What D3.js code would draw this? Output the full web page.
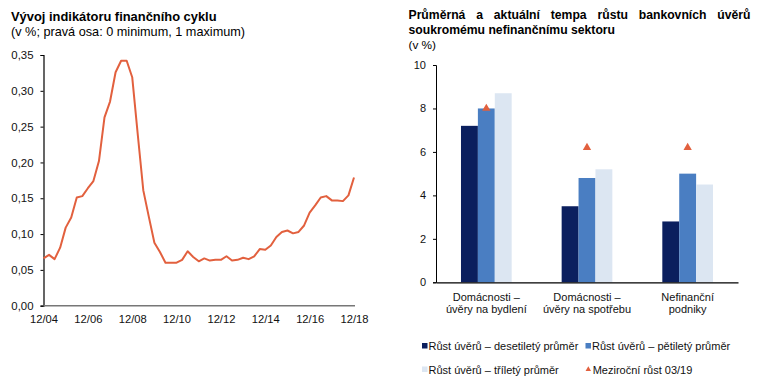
<!DOCTYPE html>
<html><head><meta charset="utf-8">
<script src="https://cdn.jsdelivr.net/npm/d3@7"></script>
<style>
body{margin:0;background:#fff;}
svg{font-family:"Liberation Sans",Arial,sans-serif;}
</style></head>
<body>
<svg id="c" width="761" height="384"></svg>
<script>
// ---------- DATA ----------
const cycleLabels = ["12/04","12/06","12/08","12/10","12/12","12/14","12/16","12/18"];
const cycleValues = [0.066,0.071,0.065,0.081,0.109,0.123,0.151,0.153,0.164,0.174,0.202,0.263,0.285,0.326,0.342,0.342,
  0.319,0.239,0.161,0.124,0.088,0.075,0.060,0.060,0.060,0.064,0.076,0.068,0.062,0.066,0.063,0.064,0.064,0.069,0.063,
  0.064,0.067,0.065,0.069,0.079,0.078,0.084,0.096,0.103,0.105,0.101,0.103,0.112,0.130,0.140,0.151,0.153,0.147,0.147,
  0.146,0.154,0.179];
const cycleTicks = [0,0.05,0.10,0.15,0.20,0.25,0.30,0.35];

const categories = ["Domácnosti –\núvěry na bydlení","Domácnosti –\núvěry na spotřebu","Nefinanční\npodniky"];
const seriesNames = ["Růst úvěrů – desetiletý průměr","Růst úvěrů – pětiletý průměr","Růst úvěrů – tříletý průměr"];
const tenYear = [7.2,3.5,2.8];
const fiveYear = [8.0,4.8,5.0];
const threeYear = [8.7,5.2,4.5];
const yoyName = "Meziroční růst 03/19";
const yoy = [8.0,6.2,6.2];
const growthTicks = [0,2,4,6,8,10];

// ---------- SETUP ----------
const svg = d3.select("#c");
const locale = d3.formatLocale({decimal:",",thousands:" ",grouping:[3],currency:["","Kč"]});
const f2 = locale.format(".2f");
const lineColor = "#e2603e";
const colors = ["#0b1f5e","#4a7ec2","#dce6f2"];

// ---------- LEFT CHART ----------
svg.append("text").attr("x",11).attr("y",21).attr("font-size",12.9).attr("font-weight","bold").attr("fill","#000")
  .text("Vývoj indikátoru finančního cyklu");
svg.append("text").attr("x",11).attr("y",36).attr("font-size",12.7).attr("fill","#000")
  .text("(v %; pravá osa: 0 minimum, 1 maximum)");

const xL = d3.scaleLinear().domain([0,cycleValues.length-1]).range([43.5,354]);
const yL = d3.scaleLinear().domain([0,0.35]).range([305.7,55]);

const gyL = svg.append("g").attr("transform","translate(43.5,0)")
  .call(d3.axisLeft(yL).tickValues(cycleTicks).tickFormat(f2).tickSize(3).tickPadding(7));
gyL.select(".domain").attr("stroke","#000").attr("stroke-width",1.2);
gyL.selectAll(".tick line").attr("stroke","#000");
gyL.selectAll("text").attr("font-size",11.4).attr("fill","#111").attr("font-family","Liberation Sans, Arial, sans-serif");

const gxL = svg.append("g").attr("transform","translate(0,305.7)")
  .call(d3.axisBottom(xL).tickValues(cycleLabels.map((d,i)=>i*8)).tickFormat((d,i)=>cycleLabels[i]).tickSize(0).tickPadding(9));
gxL.select(".domain").attr("stroke","#777").attr("stroke-width",1.6).attr("d","M43.5,0H355");
gxL.selectAll("text").attr("font-size",11.2).attr("fill","#111").attr("font-family","Liberation Sans, Arial, sans-serif");

svg.append("path").datum(cycleValues)
  .attr("d",d3.line().x((d,i)=>xL(i)).y(d=>yL(d)))
  .attr("fill","none").attr("stroke",lineColor).attr("stroke-width",2).attr("stroke-linejoin","round");

// ---------- RIGHT CHART ----------
function justified(text,x0,x1,y,opts){
  const words = text.split(" ");
  const g = svg.append("g");
  const nodes = words.map(w=>g.append("text").attr("y",y).attr("font-size",opts.size).attr("font-weight","bold").attr("fill","#000").text(w));
  const widths = nodes.map(n=>n.node().getComputedTextLength());
  const gap = ((x1-x0)-d3.sum(widths))/(words.length-1);
  let x = x0;
  nodes.forEach((n,i)=>{n.attr("x",x); x += widths[i]+gap;});
}
justified("Průměrná a aktuální tempa růstu bankovních úvěrů",408.5,750.5,19,{size:12.2});
svg.append("text").attr("x",408.5).attr("y",33.5).attr("font-size",12.2).attr("font-weight","bold").attr("fill","#000")
  .text("soukromému nefinančnímu sektoru");
svg.append("text").attr("x",408.5).attr("y",48.5).attr("font-size",11.8).attr("fill","#000").text("(v %)");

const xR = d3.scaleBand().domain(categories).range([436,738]).padding(0);
const bw = 16.9;
const xS = d3.scaleBand().domain(seriesNames).range([-bw*1.5,bw*1.5]).padding(0);
const yR = d3.scaleLinear().domain([0,10]).range([282.3,65]);

const seriesData = [tenYear,fiveYear,threeYear];
seriesNames.forEach((s,si)=>{
  svg.append("g").selectAll("rect").data(seriesData[si]).join("rect")
    .attr("x",(d,i)=>xR(categories[i])+xR.bandwidth()/2+xS(s))
    .attr("width",xS.bandwidth())
    .attr("y",d=>yR(d)).attr("height",d=>yR(0)-yR(d))
    .attr("fill",colors[si]);
});

const tri = d3.symbol().type(d3.symbolTriangle).size(30);
svg.append("g").selectAll("path").data(yoy).join("path")
  .attr("d",tri)
  .attr("transform",(d,i)=>`translate(${xR(categories[i])+xR.bandwidth()/2},${yR(d)})`)
  .attr("fill",lineColor);

const gyR = svg.append("g").attr("transform","translate(436,0)")
  .call(d3.axisLeft(yR).tickValues(growthTicks).tickSize(3).tickPadding(7));
gyR.select(".domain").attr("stroke","#000").attr("stroke-width",1);
gyR.selectAll(".tick line").attr("stroke","#000");
gyR.selectAll("text").attr("font-size",11).attr("fill","#111").attr("font-family","Liberation Sans, Arial, sans-serif");

const gxR = svg.append("g").attr("transform","translate(0,282.3)")
  .call(d3.axisBottom(xR).tickSize(0).tickFormat(""));
gxR.select(".domain").attr("stroke","#000").attr("stroke-width",1.2);

categories.forEach(c=>{
  const lines = c.split("\n");
  const t = svg.append("text").attr("text-anchor","middle").attr("font-size",11).attr("fill","#111");
  lines.forEach((l,j)=>t.append("tspan").attr("x",xR(c)+xR.bandwidth()/2).attr("y",300.5+j*12.6).text(l));
});

// legend
const legendItems = [
  {name:seriesNames[0],type:"rect",color:colors[0],x:422,y:346},
  {name:seriesNames[1],type:"rect",color:colors[1],x:585.5,y:346},
  {name:seriesNames[2],type:"rect",color:colors[2],x:422,y:369.5},
  {name:yoyName,type:"tri",color:lineColor,x:585.5,y:369.5}
];
const lg = svg.append("g").selectAll("g").data(legendItems).join("g")
  .attr("transform",d=>`translate(${d.x},${d.y})`);
lg.filter(d=>d.type==="rect").append("rect").attr("x",0).attr("y",-3).attr("width",5.5).attr("height",5.5).attr("fill",d=>d.color);
lg.filter(d=>d.type==="tri").append("path").attr("d",d3.symbol().type(d3.symbolTriangle).size(13)).attr("transform","translate(2.8,0)").attr("fill",d=>d.color);
lg.append("text").attr("x",d=>d.type==="tri"?7.2:6.5).attr("y",4).attr("font-size",11).attr("fill","#111").text(d=>d.name);
</script>
</body></html>
